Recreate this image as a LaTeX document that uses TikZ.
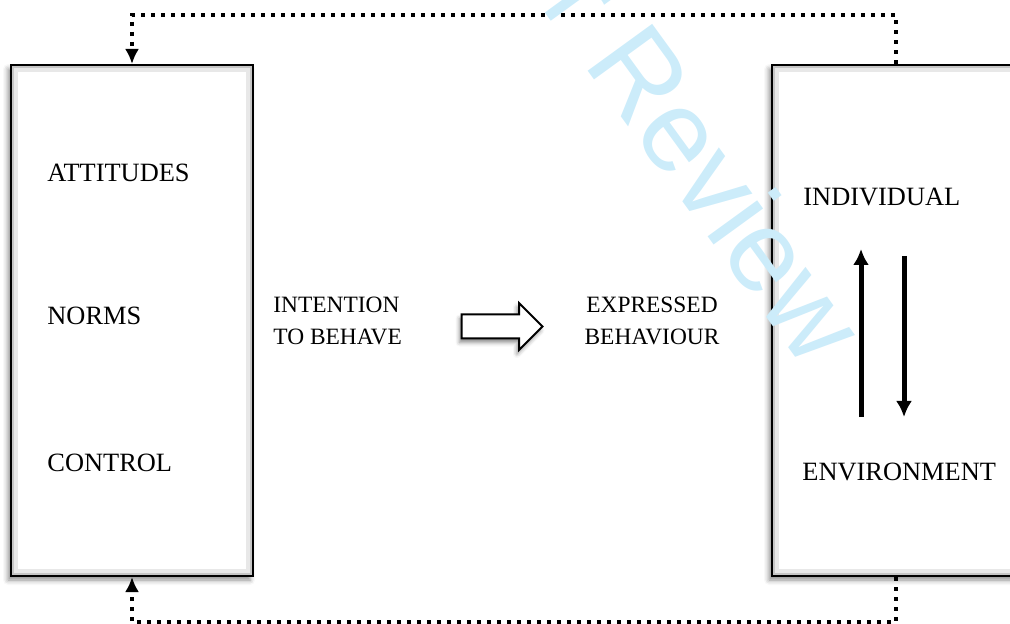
\documentclass[tikz,border=0pt]{standalone}
\usepackage{fontspec}
\setmainfont{Liberation Serif}
\newfontfamily\stampfont{Liberation Sans}
\usetikzlibrary{positioning,calc,arrows.meta,shapes.arrows,shadows.blur}
\definecolor{stampblue}{RGB}{204,236,250}

\begin{document}
\begin{tikzpicture}
    [
    x=0.5pt, y=-0.5pt,
    panel/.style={
      draw, line width=1pt, fill=white,
      minimum height=255.5pt, inner sep=0pt,
      blur shadow={shadow xshift=-1.5pt, shadow yshift=-2pt,
        shadow blur radius=2.5pt, shadow opacity=45},
      path picture={
        \draw[gray!18, line width=7pt] (path picture bounding box.south west)
          rectangle (path picture bounding box.north east);
        \draw[gray!45, line width=3pt] (path picture bounding box.south west)
          rectangle (path picture bounding box.north east);
      }},
    factor/.style={inner sep=0pt, anchor=base west,
      font=\fontsize{13.2}{16}\selectfont},
    stage/.style={inner sep=0pt, font=\fontsize{11.7}{16}\selectfont},
    feedback/.style={line width=2pt, dash pattern=on 2pt off 3pt,
      -{Latex[length=7.5pt, width=7pt]}},
    link/.style={line width=2.5pt, -{Latex[length=8pt, width=8pt]}},
    stamp/.style={text=stampblue, inner sep=0pt,
      font=\stampfont\fontsize{58}{58}\selectfont}
    ]
    \def\factorsA{
          182/ATTITUDES,
          325/NORMS,
          471/CONTROL
    }

    \useasboundingbox (0,0) rectangle (1010,624);
    \clip (0,0) rectangle (1010,624);

    % First, the two panels
    \node[panel, minimum width=121pt] (beliefs) at (132,320.5) {};
    \node[panel, minimum width=124pt] (context) at (896,320.5) {};

    % Labels of the left panel
    \foreach \y/\txt [count=\i] in \factorsA {
      \node[factor] (factor\i) at (47,\y) {\txt};
    }
    % Labels of the right panel
    \node[factor] (individual) at (803,206) {INDIVIDUAL};
    \node[factor] (environment) at (802,480) {ENVIRONMENT};

    % The middle step (base is the last line)
    \node[stage, align=left, anchor=base west] (intention) at (273,345)
      {INTENTION\\TO BEHAVE};
    \node[single arrow, draw, line width=1pt, fill=white, inner sep=0pt,
      text height=5.5pt, text depth=5.5pt, minimum width=0pt,
      minimum height=40.5pt,
      single arrow head extend=5.75pt, single arrow tip angle=90,
      blur shadow={shadow xshift=-1pt, shadow yshift=-2pt,
        shadow blur radius=2pt, shadow opacity=45}]
      (shift) at (496,326.5) {};
    \node[stage, align=center, anchor=base] (behaviour) at (652,345)
      {EXPRESSED\\BEHAVIOUR};

    % Draw the two way link
    \coordinate (upfrom) at (861,417);
    \coordinate (upto) at (861,249);
    \coordinate (downfrom) at (904,256);
    \coordinate (downto) at (904,417);
    \draw[link] (upfrom) -- (upto);
    \draw[link] (downfrom) -- (downto);

    % Draw the feedback loops
    \draw[feedback] (context.north) -- ++(0,-49) -| (beliefs.north);
    \draw[feedback] (context.south) -- ++(0,45) -| (beliefs.south);

    % The stamp on top
    \node[stamp, rotate=-54, anchor=base east] (stamp) at (806,372)
      {For Review};
\end{tikzpicture}
\end{document}
